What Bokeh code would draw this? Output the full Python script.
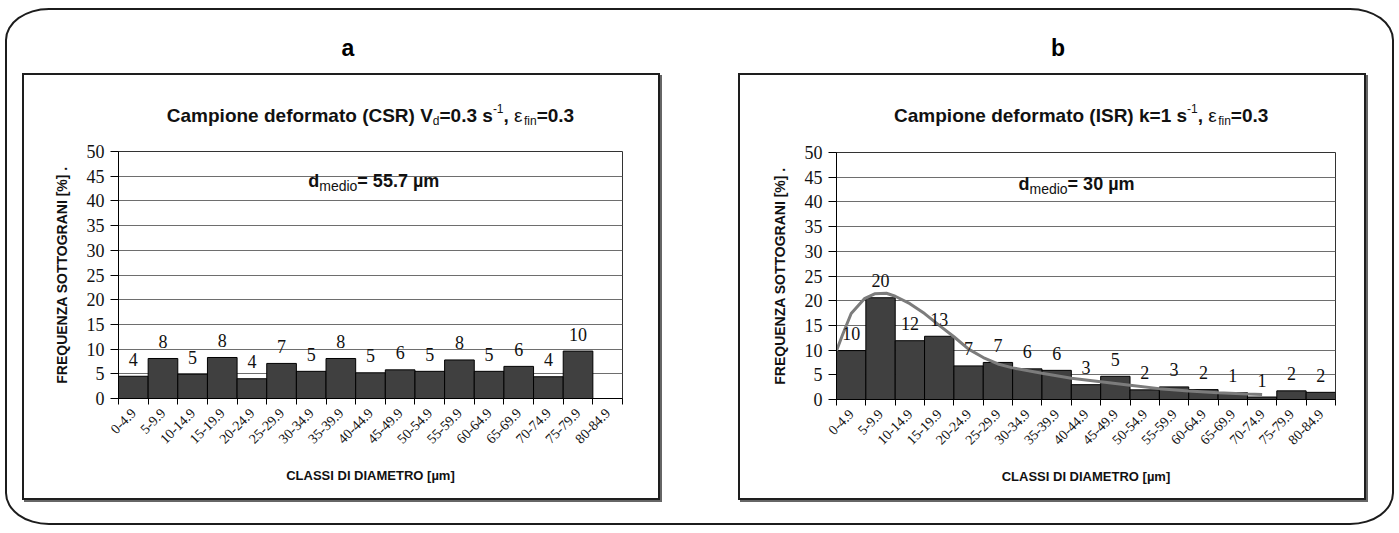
import math
from bokeh.plotting import figure
from bokeh.models import Range1d, FixedTicker, Label, LabelSet, Div, ColumnDataSource
from bokeh.layouts import row, column
from bokeh.core.properties import value
from bokeh.embed import file_html
from bokeh.resources import INLINE

# ---------------- data ----------------
categories = ["0-4.9", "5-9.9", "10-14.9", "15-19.9", "20-24.9", "25-29.9", "30-34.9",
              "35-39.9", "40-44.9", "45-49.9", "50-54.9", "55-59.9", "60-64.9", "65-69.9",
              "70-74.9", "75-79.9", "80-84.9"]

freq_a = [4.5, 8.1, 4.9, 8.3, 4.0, 7.1, 5.5, 8.1, 5.2, 5.8, 5.5, 7.8, 5.5, 6.5, 4.4, 9.6]
labels_a = ["4", "8", "5", "8", "4", "7", "5", "8", "5", "6", "5", "8", "5", "6", "4", "10"]

freq_b = [9.9, 20.6, 11.9, 12.8, 6.8, 7.5, 6.2, 5.9, 3.0, 4.7, 1.95, 2.55, 2.0, 1.4, 0.5, 1.75, 1.45]
labels_b = ["10", "20", "12", "13", "7", "7", "6", "6", "3", "5", "2", "3", "2", "1", "1", "2", "2"]

# fitted distribution curve (x in class units, y in %)
fit_x = [0.0, 0.2, 0.5, 0.95, 1.3, 1.7, 2.0, 2.5, 3.0, 3.5, 4.0, 4.5, 5.0, 5.5, 6.0,
         7.0, 8.0, 9.0, 10.0, 11.0, 12.0, 13.0, 14.0, 14.5]
fit_y = [9.9, 13.0, 17.4, 20.4, 21.4, 21.5, 20.9, 19.4, 17.4, 15.0, 12.7, 10.2, 8.5, 7.2, 6.4,
         5.3, 4.3, 3.6, 2.9, 2.2, 1.7, 1.35, 1.1, 1.0]

y_ticks = [0, 5, 10, 15, 20, 25, 30, 35, 40, 45, 50]

title_a = [("Campione deformato (CSR) V", True, 0), ("d", False, -1), ("=0.3 s", True, 0),
           ("-1", False, 1), (", ", True, 0), ("ε", False, 0), ("fin", False, -1), ("=0.3", True, 0)]
title_b = [("Campione deformato (ISR) k=1 s", True, 0), ("-1", False, 1), (", ", True, 0),
           ("ε", False, 0), ("fin", False, -1), ("=0.3", True, 0)]
dmed_a = [("d", True, 0), ("medio", False, -1), ("= 55.7 µm", True, 0)]
dmed_b = [("d", True, 0), ("medio", False, -1), ("= 30 µm", True, 0)]

x_title = "CLASSI DI DIAMETRO [µm]"
y_title = "FREQUENZA SOTTOGRANI [%] ."

# ---------------- helpers ----------------
BOLD_W = {' ': 278, '(': 333, ')': 333, ',': 278, '-': 333, '.': 278, '=': 584,
          '0': 556, '1': 556, '3': 556, '5': 556, '7': 556,
          'C': 722, 'I': 278, 'R': 722, 'S': 667, 'V': 667,
          'a': 556, 'd': 611, 'e': 556, 'f': 333, 'i': 278, 'k': 556, 'm': 889,
          'n': 611, 'o': 611, 'p': 611, 'r': 389, 's': 556, 't': 333, 'µ': 611, 'ε': 560}
REG_W = {'-': 333, '1': 556, 'd': 556, 'e': 556, 'f': 278, 'i': 222, 'n': 556,
         'm': 833, 'o': 556, 'ε': 520}

FONT = "Liberation Sans"
SERIF = "Liberation Serif"
BOX_STYLE = {"border": "2px solid #1e1e1e", "box-shadow": "2px 2px 0 #666", "background": "white"}
T_SIZE, T_SMALL = 19, 12


def text_width(s, bold, size):
    table = BOLD_W if bold else REG_W
    return sum(table.get(ch, 556) for ch in s) * size / 1000.0


def rich_width(segs, size, small):
    return sum(text_width(t, b, size if sh == 0 else small) for t, b, sh in segs)


def rich_text(p, x, y, x_off, y_off, segs, size, small):
    cur = x_off
    for txt, bold, shift in segs:
        sz = size if shift == 0 else small
        dy = {0: 0, -1: -5, 1: 7}[shift]
        p.add_layout(Label(x=x, y=y, x_offset=cur, y_offset=y_off + dy, text=txt,
                           text_font=FONT, text_font_size=f"{sz}px",
                           text_font_style="bold" if bold else "normal",
                           text_align="left", text_baseline="alphabetic",
                           text_color="#111111"))
        cur += text_width(txt, bold, sz)


def make_title(w, h, segs, cx, baseline):
    t = figure(width=w, height=h, x_range=Range1d(0, w), y_range=Range1d(0, h),
               output_backend="svg", toolbar_location=None, tools="",
               min_border=0, background_fill_color="white", border_fill_color="white")
    t.axis.visible = False
    t.grid.visible = False
    t.outline_line_color = None
    wt = rich_width(segs, T_SIZE, T_SMALL)
    rich_text(t, cx, baseline, -wt / 2.0, 0, segs, T_SIZE, T_SMALL)
    return t


def make_chart(w, h, mbl, mbr, mbt, mbb, freq, labels, dmed_segs, dmed_xy):
    n = len(categories)
    p = figure(width=w, height=h, x_range=Range1d(0, n), y_range=Range1d(0, 50),
               output_backend="svg", toolbar_location=None, tools="",
               min_border_left=mbl, min_border_right=mbr, min_border_top=mbt, min_border_bottom=mbb,
               background_fill_color="white", border_fill_color="white")
    p.outline_line_color = "#333333"
    p.outline_line_width = 1

    centers = [i + 0.5 for i in range(n)]
    # x axis: tick marks at class boundaries, labels at class centres
    p.xaxis.ticker = FixedTicker(ticks=centers, minor_ticks=list(range(n + 1)))
    p.xaxis.major_label_overrides = {c: categories[i] for i, c in enumerate(centers)}
    p.xaxis.major_tick_line_color = None
    p.xaxis.minor_tick_line_color = "black"
    p.xaxis.minor_tick_out = 6
    p.xaxis.minor_tick_in = 0
    p.xaxis.major_label_orientation = math.pi / 4
    p.xaxis.major_label_standoff = 6
    p.xaxis.major_label_text_font = SERIF
    p.xaxis.major_label_text_font_size = "14px"
    p.xaxis.major_label_text_color = "#111111"
    p.xaxis.axis_line_color = "black"
    p.xaxis.axis_label = x_title
    p.xaxis.axis_label_text_font = FONT
    p.xaxis.axis_label_text_font_style = "bold"
    p.xaxis.axis_label_text_font_size = "13px"
    p.xaxis.axis_label_text_color = "#111111"
    p.xaxis.axis_label_standoff = 17

    p.yaxis.ticker = FixedTicker(ticks=y_ticks)
    p.yaxis.major_tick_out = 8
    p.yaxis.major_tick_in = 0
    p.yaxis.minor_tick_line_color = None
    p.yaxis.major_tick_line_color = "black"
    p.yaxis.axis_line_color = "black"
    p.yaxis.major_label_standoff = 6
    p.yaxis.major_label_text_font = SERIF
    p.yaxis.major_label_text_font_size = "18px"
    p.yaxis.major_label_text_color = "#111111"
    p.yaxis.axis_label = y_title
    p.yaxis.axis_label_text_font = FONT
    p.yaxis.axis_label_text_font_style = "bold"
    p.yaxis.axis_label_text_font_size = "14px"
    p.yaxis.axis_label_text_color = "#111111"
    p.yaxis.axis_label_standoff = 14

    p.xgrid.visible = False
    p.ygrid.ticker = FixedTicker(ticks=y_ticks)
    p.ygrid.grid_line_color = "#6e6e6e"
    p.ygrid.grid_line_width = 1

    xs = centers[:len(freq)]
    p.vbar(x=xs, top=freq, width=1.0, bottom=0, fill_color="#404040", line_color="black", line_width=1)

    src = ColumnDataSource(dict(x=xs, y=freq, t=labels))
    p.add_layout(LabelSet(x="x", y="y", text="t", source=src, y_offset=17, text_align="center",
                          text_baseline="middle", text_font=value(SERIF), text_font_size=value("18px"),
                          text_color=value("#111111")))

    # mean diameter annotation
    rich_text(p, dmed_xy[0], dmed_xy[1], 0, 0, dmed_segs, 18, 14)
    return p


title_fig_a = make_title(634, 55, title_a, 317, 15)
chart_a = make_chart(634, 368, 94, 36, 21, 100, freq_a, labels_a, dmed_a, (6.4, 44.0))
title_fig_b = make_title(624, 55, title_b, 306, 15)
chart_b = make_chart(624, 368, 96, 29, 22, 99, freq_b, labels_b, dmed_b, (6.2, 43.6))
chart_b.line(fit_x, fit_y, line_color="#7c7c7c", line_width=3)


def letter_div(ch, w, pad_left):
    html = (f'<div style="width:{w}px;text-align:center;font-family:\'Liberation Sans\';font-weight:bold;'
            f'font-size:23px;line-height:23px;padding-top:27px;padding-left:{pad_left}px;box-sizing:border-box">{ch}</div>')
    return Div(text=html, width=w, height=63, margin=(0, 0, 0, 0))


box_a = column(title_fig_a, chart_a, spacing=0, width=638, height=427, styles=BOX_STYLE)
box_b = column(title_fig_b, chart_b, spacing=0, width=628, height=427, styles=BOX_STYLE)
col_a = column(letter_div("a", 638, 14), box_a, spacing=0, margin=(0, 0, 0, 15))
col_b = column(letter_div("b", 628, 12), box_b, spacing=0, margin=(0, 0, 0, 78))
page = row(col_a, col_b, spacing=0, width=1389, height=517, margin=(8, 0, 0, 5),
           styles={"border": "2px solid #1c1c1c", "border-radius": "44px / 32px",
                   "background": "white"})

open("out.html", "w").write(file_html(page, INLINE))
